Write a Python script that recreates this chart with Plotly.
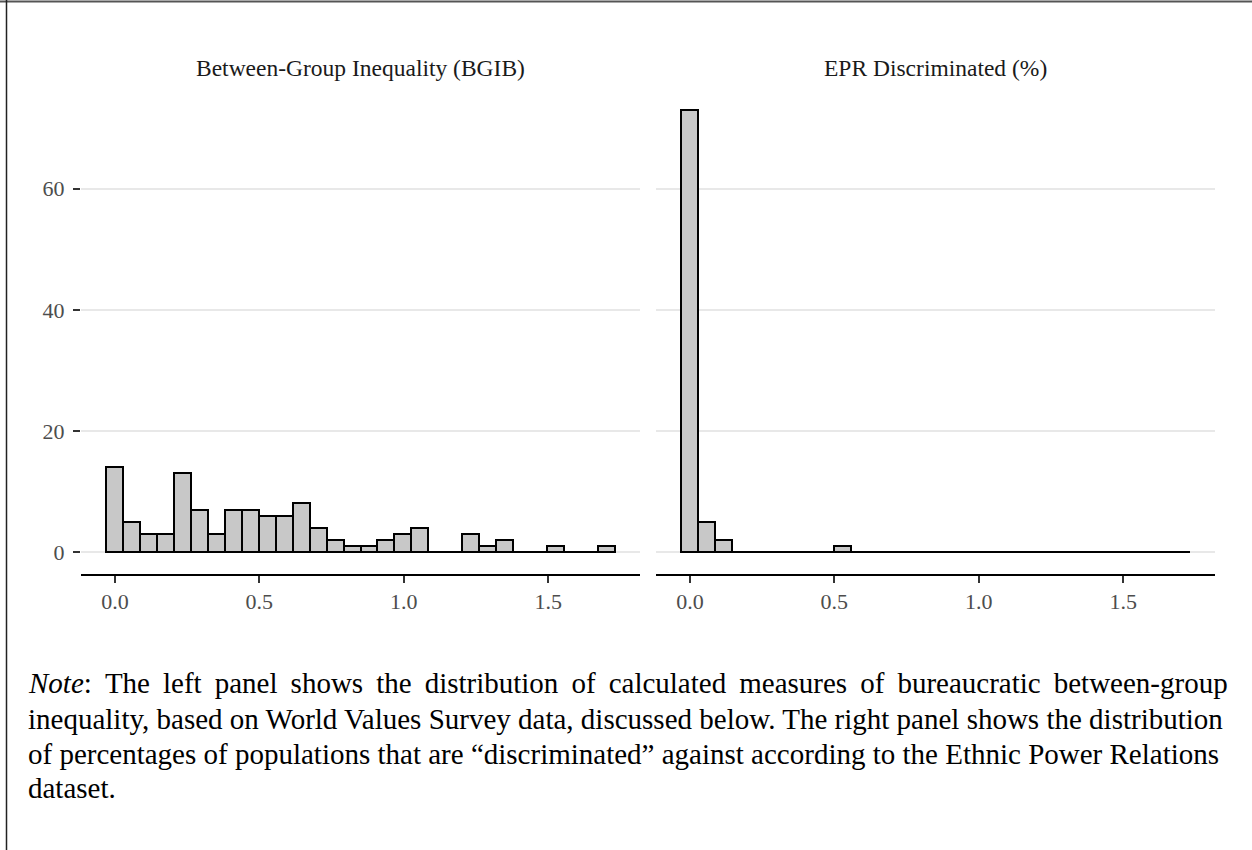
import numpy as np
import plotly.graph_objects as go

# Histogram bins shared by both facets (30 bins, width = range / 29)
bin_width = 1.70 / 29
bin_centers = [round(i * bin_width, 4) for i in range(30)]

# Counts per bin
bgib_counts = [14, 5, 3, 3, 13, 7, 3, 7, 7, 6, 6, 8, 4, 2, 1,
               1, 2, 3, 4, 0, 0, 3, 1, 2, 0, 0, 1, 0, 0, 1]
epr_counts = [73, 5, 2, 0, 0, 0, 0, 0, 0, 1, 0, 0, 0, 0, 0,
              0, 0, 0, 0, 0, 0, 0, 0, 0, 0, 0, 0, 0, 0, 0]

panel_titles = ["Between-Group Inequality (BGIB)", "EPR Discriminated (%)"]
x_ticks = [0.0, 0.5, 1.0, 1.5]
y_ticks = [0, 20, 40, 60]

first_line_words = ["<i>Note</i>:", "The", "left", "panel", "shows", "the",
                    "distribution", "of", "calculated", "measures", "of",
                    "bureaucratic", "between-group"]
note_lines = [
    # widened word gaps to fill the justified first line
    " \u2009".join(first_line_words),
    "inequality, based on World Values Survey data, discussed below. The right panel shows the distribution",
    "of percentages of populations that are \u201cdiscriminated\u201d against according to the Ethnic Power Relations",
    "dataset.",
]

W, H = 1252, 850
FONT = "Liberation Serif"
FILL = "#c8c8c8"
GRID = "#e8e8e8"

# panel geometry in pixels
left_dom = (81, 640)
right_dom = (656, 1215)
panel_top, panel_bottom = 88, 574

x_lo = bin_centers[0] - bin_width / 2
x_hi = bin_centers[-1] + bin_width / 2
pad_x = 0.05 * (x_hi - x_lo)
y_max = max(max(bgib_counts), max(epr_counts))
pad_y = 0.05 * y_max

fig = go.Figure()

for idx, counts in enumerate([bgib_counts, epr_counts]):
    xa = "x" if idx == 0 else "x2"
    ya = "y" if idx == 0 else "y2"
    # baseline across all bins (empty bins drawn as flat outlines)
    fig.add_trace(go.Scatter(
        x=[x_lo, x_hi], y=[0, 0], mode="lines",
        line=dict(color="black", width=2), xaxis=xa, yaxis=ya,
        showlegend=False, hoverinfo="skip"))
    fig.add_trace(go.Bar(
        x=bin_centers, y=counts, width=bin_width,
        marker=dict(color=FILL, line=dict(color="black", width=2)),
        xaxis=xa, yaxis=ya, showlegend=False))

def px_x(p):
    return p / W

def px_y(p):
    return 1 - p / H

common_x = dict(
    range=[x_lo - pad_x, x_hi + pad_x],
    tickvals=x_ticks, ticktext=[f"{v:.1f}" for v in x_ticks],
    showgrid=False, zeroline=False,
    showline=True, linecolor="black", linewidth=2,
    ticks="outside", ticklen=7, tickwidth=2, tickcolor="#333333",
    tickfont=dict(family=FONT, size=22, color="#4d4d4d"),
)
common_y = dict(
    range=[-pad_y, y_max + pad_y],
    tickvals=y_ticks,
    showgrid=True, gridcolor=GRID, gridwidth=2, zeroline=False,
    showline=False,
    domain=[px_y(panel_bottom), px_y(panel_top)],
)

fig.update_layout(
    width=W, height=H,
    margin=dict(l=0, r=0, t=0, b=0),
    paper_bgcolor="white", plot_bgcolor="white",
    bargap=0,
    xaxis=dict(common_x, domain=[px_x(left_dom[0]), px_x(left_dom[1])], anchor="y"),
    xaxis2=dict(common_x, domain=[px_x(right_dom[0]), px_x(right_dom[1])], anchor="y2"),
    yaxis=dict(common_y, anchor="x", ticks="outside", ticklen=7, tickwidth=2,
               tickcolor="#333333", ticklabelstandoff=4,
               tickfont=dict(family=FONT, size=22, color="#4d4d4d")),
    yaxis2=dict(common_y, anchor="x2", showticklabels=False, ticks=""),
)

annotations = []
for title, dom in zip(panel_titles, [left_dom, right_dom]):
    annotations.append(dict(
        text=title, xref="paper", yref="paper",
        x=px_x((dom[0] + dom[1]) / 2), y=px_y(68),
        xanchor="center", yanchor="middle", showarrow=False,
        font=dict(family=FONT, size=23.5, color="#1a1a1a")))

line_centers = [683, 719, 754, 788]
for text, yc in zip(note_lines, line_centers):
    annotations.append(dict(
        text=text, xref="paper", yref="paper",
        x=px_x(26), y=px_y(yc), xanchor="left", yanchor="middle",
        showarrow=False, font=dict(family=FONT, size=29, color="black")))
fig.update_layout(annotations=annotations)

# page frame
fig.add_shape(type="line", xref="paper", yref="paper",
              x0=0, x1=1, y0=px_y(1.5), y1=px_y(1.5),
              line=dict(color="#555555", width=2))
fig.add_shape(type="line", xref="paper", yref="paper",
              x0=px_x(6.5), x1=px_x(6.5), y0=0, y1=1,
              line=dict(color="#222222", width=1.5))

fig.write_html("out.html")
